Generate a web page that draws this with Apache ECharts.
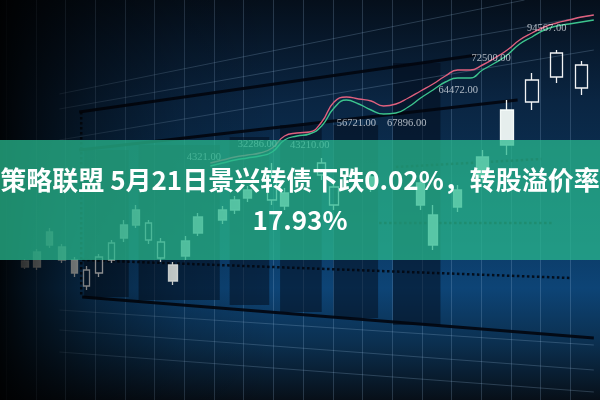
<!DOCTYPE html>
<html>
<head>
<meta charset="utf-8">
<script src="https://cdn.jsdelivr.net/npm/echarts@6/dist/echarts.min.js"></script>
<style>
html,body{margin:0;padding:0;background:#050d18;}
#chart{width:600px;height:400px;}
</style>
</head>
<body>
<div id="chart"></div>
<script>
// ---------- data ----------
const titleText = '策略联盟 5月21日景兴转债下跌0.02%，转股溢价率\n17.93%';

// trading-day slots (category axis)
const categories = Array.from({length: 48}, (_, i) => 'D' + (i + 1));

// candles: slot index, open, close, low, high
const candleSlot  = [1,2,3,4,5,6,7,8,9,10,11,12,13,14,15,17,18,19,21,22,25,26,29,33,34,36,38,40,42,44,46];
const candleOpen  = [34750,37000,42000,38250,35000,28500,31750,35000,43750,47500,40000,35500,33750,39750,45750,47500,50000,52500,50000,51750,56250,48750,55750,54250,46250,52500,60750,72500,74500,80750,78000];
const candleClose = [33250,33250,38750,35000,31750,32500,35750,39250,40500,43750,44250,39500,29750,36000,41750,45000,47500,50500,56000,48500,59250,53250,53250,48750,38750,48250,55750,63750,80000,86750,83750];
const candleLow   = [32750,32500,38000,34250,30750,27500,30750,34250,39500,43000,39000,34500,28750,35000,41000,44000,46500,49500,48750,47500,55000,47500,52000,47500,37500,47000,54500,61250,72500,79250,76250];
const candleHigh  = [35250,37750,43000,39000,35750,33500,36500,40000,45000,48750,45000,40500,34500,41000,46750,48500,51000,53500,59250,53000,60500,54500,57000,55500,48750,53750,62500,75000,81750,87500,84750];

// moving averages, starting at slot maStart
const maStart = 16;
const maRed   = [59250,60000,60750,61250,61750,63000,66000,66750,67000,69500,74500,75750,75250,74750,73500,74000,75500,77250,79000,81000,82500,82500,83750,85500,87500,90000,91750,93250,94250,95000,95750,96250];
const maGreen = [58500,59250,60000,60500,61000,62000,65000,66000,66500,68500,73000,75000,74000,72500,71500,71750,73250,75500,77500,79500,80500,80500,82500,84250,86250,89000,90750,92500,93500,94000,94500,95000];

// price tags printed on the chart
const tagText  = ['94567.00','72500.00','64472.00','56721.00','67896.00','43210.00','32286.00','4321.00'];
const tagDay   = [43.7, 39.2, 36.54, 28.3, 32.38, 24.54, 20.3, 15.98];
const tagPrice = [93000, 85500, 77500, 69250, 69250, 63750, 64000, 60750];

// background trend lines: [day0, price0, day1, price1]
const thinLines = [
  [4.3, 76500, 41.9, 100000],
  [4.3, 72750, 47.5, 96250],
  [4.3, 65000, 47.5, 87500],
  [4.3, 22500, 47.5, 13750],
  [4.3, 17500, 47.5, 7500],
  [4.3, 12000, 47.5, 2000]
];
const solidTrend = [
  [5.9, 72000, 38.06, 86250],
  [5.9, 62500, 41.34, 75000],
  [6.14, 25750, 47.5, 15500]
];
const dottedTrend = [
  [6.14, 35000, 45.66, 30500],
  [30.14, 44250, 44.14, 44250],
  [31.5, 58250, 43.26, 60250],
  [6.06, 72000, 6.06, 25750]
];
// dark volume blocks: [day0, day1, top price, bottom price]
const volumeBlocks = [
  [6.3, 9.9, 62500, 25750],
  [10.7, 17.26, 63750, 25000],
  [18.06, 21.26, 65750, 23750],
  [22.14, 25.5, 68750, 22000],
  [26.46, 30.06, 68750, 20500],
  [31.26, 35.1, 84250, 18750]
];

// ---------- chart ----------
const chart = echarts.init(document.getElementById('chart'), null, {renderer: 'canvas'});

function candleData(minSlot, maxSlot) {
  const out = [];
  candleSlot.forEach((s, i) => {
    if (s >= minSlot && s <= maxSlot) {
      out.push([s, candleOpen[i], candleClose[i], candleLow[i], candleHigh[i]]);
    }
  });
  return out;
}
function candleSeries(minSlot, maxSlot, width) {
  return {
    type: 'candlestick',
    xAxisIndex: 0, yAxisIndex: 0,
    barWidth: width,
    z: 4,
    encode: {x: 0, y: [1, 2, 3, 4]},
    data: candleData(minSlot, maxSlot),
    itemStyle: {
      color: 'rgba(0,0,0,0)',
      borderColor: 'rgba(255,255,255,0.95)',
      color0: 'rgba(250,255,252,0.92)',
      borderColor0: 'rgba(250,255,252,0.95)',
      borderWidth: 1.3
    },
    silent: true
  };
}
function segSeries(seg, style, z) {
  return {
    type: 'line', xAxisIndex: 1, yAxisIndex: 0,
    data: [[seg[0], seg[1]], [seg[2], seg[3]]],
    symbol: 'none', z: z, silent: true,
    lineStyle: style
  };
}

const series = [];
series.push({
  type: 'custom', xAxisIndex: 1, yAxisIndex: 0, z: 1, silent: true,
  encode: {x: [0, 1], y: [2, 3]},
  data: volumeBlocks,
  renderItem: function (params, api) {
    const a = api.coord([api.value(0), api.value(2)]);
    const b = api.coord([api.value(1), api.value(3)]);
    return {
      type: 'rect',
      shape: {x: a[0], y: a[1], width: b[0] - a[0], height: b[1] - a[1]},
      style: {fill: 'rgba(2,10,24,0.5)'}
    };
  }
});
thinLines.forEach(s => series.push(segSeries(s, {color: 'rgba(170,205,235,0.22)', width: 1}, 1)));
solidTrend.forEach(s => series.push(segSeries(s, {color: 'rgba(2,6,14,0.9)', width: 3}, 2)));
dottedTrend.forEach(s => series.push(segSeries(s, {color: 'rgba(2,6,14,0.85)', width: 2.5, type: 'dotted'}, 2)));

series.push({
  type: 'line', xAxisIndex: 0, yAxisIndex: 0, smooth: true, symbol: 'none', z: 3, silent: true,
  data: maGreen.map((v, i) => [maStart + i, v]),
  lineStyle: {color: '#3cc48e', width: 1.4}
});
series.push({
  type: 'line', xAxisIndex: 0, yAxisIndex: 0, smooth: true, symbol: 'none', z: 3, silent: true,
  data: maRed.map((v, i) => [maStart + i, v]),
  lineStyle: {color: '#e0607e', width: 1.4}
});

series.push(candleSeries(0, 12, 7));
series.push(candleSeries(13, 36, 9));
series.push(candleSeries(37, 47, 13));

series.push({
  type: 'scatter', xAxisIndex: 1, yAxisIndex: 0, z: 4, silent: true,
  symbolSize: 0,
  data: tagText.map((t, i) => ({name: t, value: [tagDay[i], tagPrice[i]]})),
  label: {
    show: true, position: 'inside', formatter: '{b}',
    color: 'rgba(235,240,245,0.9)', fontSize: 10.5,
    fontFamily: '"Liberation Serif", serif'
  }
});

const option = {
  animation: false,
  backgroundColor: {
    type: 'linear', x: 0, y: 0, x2: 0, y2: 1,
    colorStops: [
      {offset: 0, color: '#050f1b'},
      {offset: 0.25, color: '#0a2542'},
      {offset: 0.5, color: '#0b3358'},
      {offset: 0.72, color: '#0d4476'},
      {offset: 0.86, color: '#0b2f4f'},
      {offset: 1, color: '#070f18'}
    ]
  },
  title: {
    text: titleText,
    left: 'center', top: 140,
    padding: [20, 0, 20, 0],
    backgroundColor: 'rgba(40,184,142,0.75)',
    z: 10,
    textStyle: {
      color: '#ffffff', fontSize: 26, fontWeight: 'bold',
      fontFamily: '"Noto Sans CJK SC", sans-serif',
      lineHeight: 40, width: 600
    }
  },
  graphic: [{
    type: 'rect', left: 0, top: 0, z: 5, silent: true,
    shape: {width: 600, height: 400},
    style: {
      fill: {
        type: 'linear', x: 0, y: 0, x2: 1, y2: 0,
        colorStops: [
          {offset: 0, color: 'rgba(0,0,0,0.92)'},
          {offset: 0.05, color: 'rgba(0,0,0,0.75)'},
          {offset: 0.15, color: 'rgba(0,0,0,0.45)'},
          {offset: 0.3, color: 'rgba(0,0,0,0.15)'},
          {offset: 0.45, color: 'rgba(0,0,0,0)'},
          {offset: 1, color: 'rgba(0,0,0,0)'}
        ]
      }
    }
  }],
  grid: {left: 6.25, width: 600, top: 0, height: 400, containLabel: false},
  xAxis: [
    {type: 'category', data: categories, show: false},
    {type: 'value', min: 0, max: 48, interval: 2.4, show: true,
     axisLine: {show: false}, axisTick: {show: false}, axisLabel: {show: false},
     splitLine: {show: true, lineStyle: {color: 'rgba(170,205,240,0.2)', width: 1}}}
  ],
  yAxis: [{type: 'value', min: 0, max: 100000, show: false, splitLine: {show: false}}],
  series: series
};
chart.setOption(option);
</script>
</body>
</html>
